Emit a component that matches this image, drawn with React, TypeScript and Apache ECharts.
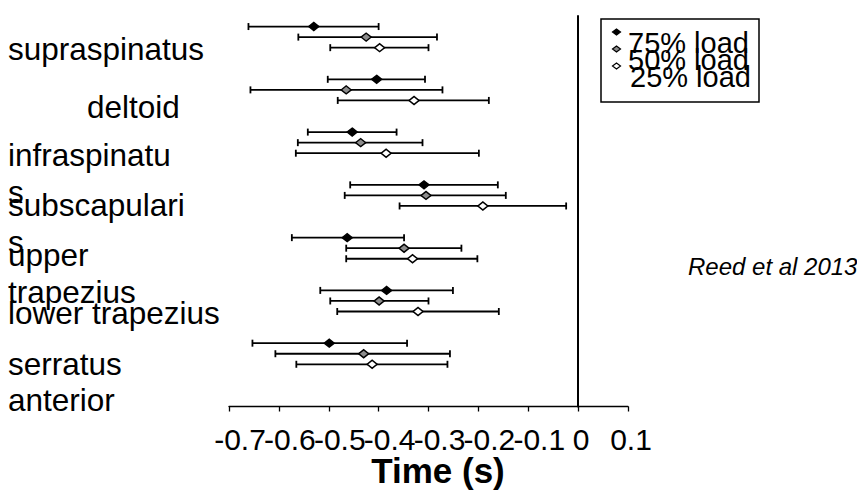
import React, { useEffect, useRef } from 'react';
import * as echarts from 'echarts';

const muscles = ['supraspinatus', 'deltoid', 'infraspinatus', 'subscapularis', 'upper trapezius', 'lower trapezius', 'serratus anterior'];
const muscleLabelLines = [['supraspinatus'], ['deltoid'], ['infraspinatu', 's'], ['subscapulari', 's'], ['upper', 'trapezius'], ['lower trapezius'], ['serratus', 'anterior']];
const loads = ['75% load', '50% load', '25% load'];

const mean75 = [-0.53, -0.404, -0.453, -0.309, -0.463, -0.384, -0.499];
const low75 = [-0.661, -0.502, -0.542, -0.457, -0.574, -0.517, -0.653];
const high75 = [-0.40, -0.307, -0.364, -0.161, -0.349, -0.251, -0.343];

const mean50 = [-0.425, -0.465, -0.436, -0.305, -0.349, -0.399, -0.43];
const low50 = [-0.561, -0.657, -0.562, -0.468, -0.465, -0.497, -0.607];
const high50 = [-0.283, -0.272, -0.312, -0.145, -0.234, -0.30, -0.257];

const mean25 = [-0.398, -0.329, -0.385, -0.191, -0.332, -0.321, -0.413];
const low25 = [-0.497, -0.482, -0.566, -0.358, -0.465, -0.483, -0.565];
const high25 = [-0.30, -0.179, -0.199, -0.024, -0.202, -0.159, -0.262];

const xTickLabels = ['-0.7', '-0.6', '-0.5', '-0.4', '-0.3', '-0.2', '-0.1', '0', '0.1'];

const FONT = 'Liberation Sans, Arial, sans-serif';

export default function App() {
  const ref = useRef<HTMLDivElement>(null);
  useEffect(() => {
    if (!ref.current) return;
    const chart = echarts.init(ref.current, undefined, { renderer: 'svg' });
    const means = [mean75, mean50, mean25];
    const lows = [low75, low50, low25];
    const highs = [high75, high50, high25];
    const fills = ['#000000', '#8c8c8c', '#ffffff'];
    const series: any[] = [];
    means.forEach((m, s) => {
      series.push({
        type: 'custom',
        name: loads[s] + ' range',
        renderItem: (params: any, api: any) => {
          const y = api.value(2);
          const lo = api.coord([api.value(0), y]);
          const hi = api.coord([api.value(1), y]);
          const h = 3.5;
          const st = { stroke: '#000', lineWidth: 1.8 };
          return {
            type: 'group',
            children: [
              { type: 'line', shape: { x1: lo[0], y1: lo[1], x2: hi[0], y2: hi[1] }, style: st },
              { type: 'line', shape: { x1: lo[0], y1: lo[1] - h, x2: lo[0], y2: lo[1] + h }, style: st },
              { type: 'line', shape: { x1: hi[0], y1: hi[1] - h, x2: hi[0], y2: hi[1] + h }, style: st },
            ],
          };
        },
        encode: { x: [0, 1], y: 2 },
        data: muscles.map((_, i) => [lows[s][i], highs[s][i], i * 5 + s]),
        z: 2,
      });
    });
    means.forEach((m, s) => {
      series.push({
        type: 'scatter',
        name: loads[s],
        symbol: 'diamond',
        symbolSize: [10, 8],
        itemStyle: { color: fills[s], borderColor: '#000', borderWidth: 1.5, opacity: 1 },
        data: muscles.map((_, i) => [m[i], i * 5 + s]),
        z: 3,
      });
    });

    const graphics: any[] = [];
    const labelPos = [
      [[8, 49]],
      [[87, 107]],
      [[8, 155], [8, 192]],
      [[8, 205], [8, 242]],
      [[8, 255], [8, 292]],
      [[8, 313]],
      [[8, 364], [8, 400]],
    ];
    muscleLabelLines.forEach((lines, i) => {
      lines.forEach((t, j) => {
        graphics.push({
          type: 'text',
          x: labelPos[i][j][0],
          y: labelPos[i][j][1],
          style: { text: t, font: `31.5px ${FONT}`, fill: '#000', verticalAlign: 'middle', align: 'left' },
        });
      });
    });
    // legend box
    graphics.push({
      type: 'rect',
      shape: { x: 601, y: 19, width: 158, height: 83 },
      style: { fill: '#fff', stroke: '#000', lineWidth: 1.5 },
      z: 10,
    });
    const legMarkerY = [32, 49, 66];
    const legTextY = [43, 60, 77];
    const legTextX = [628, 628, 630];
    loads.forEach((l, s) => {
      const cx = 616.5;
      const cy = legMarkerY[s];
      graphics.push({
        type: 'polygon',
        shape: { points: [[cx - 4, cy], [cx, cy - 3], [cx + 4, cy], [cx, cy + 3]] },
        style: { fill: fills[s], stroke: '#000', lineWidth: 1.2 },
        z: 11,
      });
      graphics.push({
        type: 'text',
        x: legTextX[s],
        y: legTextY[s],
        style: { text: l, font: `29px ${FONT}`, fill: '#000', verticalAlign: 'middle', align: 'left' },
        z: 11,
      });
    });
    graphics.push({
      type: 'text',
      x: 688,
      y: 266,
      style: { text: 'Reed et al 2013', font: `italic 24px ${FONT}`, fill: '#000', verticalAlign: 'middle', align: 'left' },
    });

    chart.setOption({
      animation: false,
      backgroundColor: '#fff',
      grid: { left: 229, right: 857 - 628, top: 16, bottom: 92.5 },
      xAxis: {
        type: 'value',
        min: -0.7,
        max: 0.1,
        interval: 0.1,
        splitLine: { show: false },
        axisLine: { onZero: false, lineStyle: { color: '#000', width: 1.3 } },
        axisTick: { show: true, length: 5, lineStyle: { color: '#000', width: 1.3 } },
        axisLabel: { show: false },
        name: 'Time (s)',
        nameLocation: 'middle',
        nameGap: 46,
        nameTextStyle: { fontFamily: FONT, fontSize: 35, fontWeight: 'bold', color: '#000', padding: [0, 0, 0, 19] },
      },
      yAxis: {
        type: 'value',
        inverse: true,
        min: -1,
        max: 36,
        splitLine: { show: false },
        axisTick: { show: false },
        axisLabel: { show: false },
        axisLine: { show: true, onZero: true, lineStyle: { color: '#000', width: 2 } },
      },
      series,
      graphic: graphics,
    });

    // tick labels placed through the axis scale
    const tickGraphics = xTickLabels.map((t) => {
      const v = Number(t);
      const px = chart.convertToPixel({ xAxisIndex: 0 }, v) as number;
      const shift = v < 0 ? 11 : 3;
      return {
        type: 'text',
        x: px + shift,
        y: 439,
        style: { text: t, font: `30px ${FONT}`, fill: '#000', verticalAlign: 'middle', align: 'center' },
      };
    });
    chart.setOption({ graphic: [...graphics, ...tickGraphics] });
    return () => chart.dispose();
  }, []);
  return <div ref={ref} style={{ position: 'fixed', left: 0, top: 0, width: 857, height: 499 }} />;
}
